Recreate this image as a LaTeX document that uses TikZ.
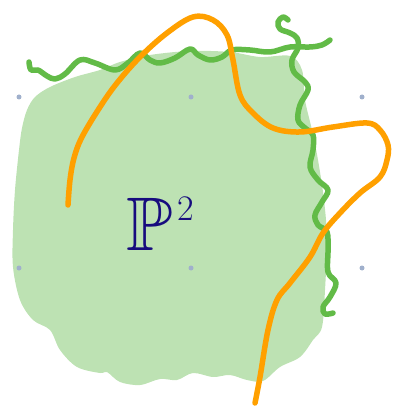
\documentclass[tikz,border=0pt]{standalone}
\usepackage{amssymb}
\definecolor{blobgreen}{HTML}{BDE2B3}
\definecolor{linegreen}{HTML}{62BB47}
\definecolor{lineorange}{HTML}{FFA000}
\definecolor{dotblue}{HTML}{A0B0CC}
\definecolor{inkblue}{HTML}{170C7E}
\tikzset{
  pen/.style={line width=5.5pt, line cap=round, line join=round},
  griddot/.style={circle, fill=dotblue, inner sep=0pt, minimum size=5pt}
}
\begin{document}
\begin{tikzpicture}[x=1pt,y=-1pt]
\useasboundingbox (0,0) rectangle (401,419);
% blob
\fill[blobgreen] plot[smooth cycle, tension=0.55] coordinates {
 (27,110) (35,97) (50,87) (75,77) (100,70) (120,62) (150,55) (190,51) (230,52)
 (260,57) (290,56) (302,70) (305,100) (312,130) (318,160) (324,200) (327,240)
 (325,290) (322,327) (313,340) (300,357) (280,367) (263,381) (247,380) (230,375)
 (213,377) (193,373) (177,380) (160,379) (140,385) (120,382) (107,372) (100,373)
 (77,367) (60,350) (50,330) (33,320) (20,300) (13,267) (13,230) (15,190) (19,150) (22,128)};
% grid dots
\node[griddot] (d1) at (19,97) {};
\node[griddot] (d2) at (191,97) {};
\node[griddot] (d3) at (362,97) {};
\node[griddot] (d4) at (19,268) {};
\node[griddot] (d5) at (191,268) {};
\node[griddot] (d6) at (362,268) {};
% green curves
\draw[pen, linegreen] plot[smooth, tension=0.6] coordinates {
 (29,62) (31,70) (38,70) (47,76) (55,79) (65,74) (80,60) (95,63) (115,70)
 (128,63) (140,53) (150,60) (160,63) (175,58) (190,49) (198,55) (210,60)
 (222,57) (232,50) (250,50) (270,52) (290,47) (310,47) (322,45) (330,40)};
\draw[pen, linegreen] plot[smooth, tension=0.6] coordinates {
 (288,20) (283,17) (278,22) (280,29) (290,33) (297,38) (298,48) (292,60)
 (294,72) (305,82) (308,90) (300,105) (298,120) (305,128) (313,135) (313,150)
 (310,167) (318,180) (328,190) (322,202) (315,215) (318,225) (327,232)
 (328,250) (328,272) (336,283) (330,297) (323,307) (325,314) (333,313)};
% orange curve
\draw[pen, lineorange] plot[smooth, tension=0.6] coordinates {
 (68,205) (70,180) (74,158) (82,137) (100,107) (117,83) (140,57) (167,33)
 (193,17) (213,20) (227,35) (233,60) (240,95) (253,113) (273,128) (300,132)
 (333,127) (367,123) (380,130) (388,145) (387,160) (380,177) (360,193)
 (340,213) (323,233) (310,257) (290,283) (277,300) (268,330) (260,377) (255,403)};
% label
\node[text=inkblue, inner sep=0pt, font=\fontsize{76}{76}\selectfont] (lbl) at (160,224)
  {$\mathbb{P}$\hspace{5pt}\raisebox{30pt}{\fontsize{36}{36}\selectfont 2}};
\end{tikzpicture}
\end{document}
